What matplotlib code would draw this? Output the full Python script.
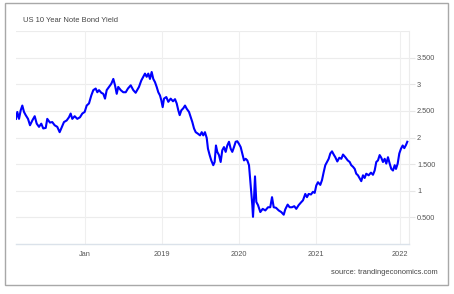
import matplotlib
matplotlib.use("Agg")
import matplotlib.pyplot as plt
from matplotlib.patches import Rectangle

plt.rcParams['font.family'] = ['Liberation Sans', 'DejaVu Sans']

# Data: decimal year, yield (%)
years = [2017.104, 2017.121, 2017.143, 2017.165, 2017.186, 2017.208, 2017.230, 2017.260,
         2017.286, 2017.316, 2017.347, 2017.373, 2017.403, 2017.432, 2017.458, 2017.490,
         2017.510, 2017.545, 2017.575, 2017.606, 2017.640, 2017.671, 2017.692, 2017.727,
         2017.762, 2017.792, 2017.814, 2017.835, 2017.866, 2017.900, 2017.935, 2017.965,
         2017.996, 2018.022, 2018.052, 2018.082, 2018.108, 2018.139, 2018.160, 2018.182,
         2018.212, 2018.238, 2018.260, 2018.282, 2018.312, 2018.342, 2018.368, 2018.390,
         2018.412, 2018.432, 2018.464, 2018.497, 2018.529, 2018.558, 2018.594, 2018.627,
         2018.658, 2018.701, 2018.731, 2018.757, 2018.779, 2018.801, 2018.822, 2018.844,
         2018.866, 2018.887, 2018.909, 2018.931, 2018.952, 2018.974, 2018.991, 2019.009,
         2019.026, 2019.056, 2019.082, 2019.113, 2019.143, 2019.169, 2019.191, 2019.212,
         2019.230, 2019.251, 2019.277, 2019.299, 2019.321, 2019.351, 2019.373, 2019.394,
         2019.416, 2019.438, 2019.468, 2019.494, 2019.516, 2019.536, 2019.558, 2019.581,
         2019.597, 2019.619, 2019.640, 2019.666, 2019.684, 2019.701, 2019.718, 2019.740,
         2019.762, 2019.783, 2019.805, 2019.827, 2019.848, 2019.870, 2019.892, 2019.913,
         2019.935, 2019.957, 2019.978, 2020.000, 2020.022, 2020.043, 2020.065, 2020.087,
         2020.108, 2020.130, 2020.152, 2020.173, 2020.182, 2020.195, 2020.208, 2020.225,
         2020.247, 2020.277, 2020.308, 2020.342, 2020.377, 2020.406, 2020.429, 2020.451,
         2020.481, 2020.516, 2020.549, 2020.581, 2020.601, 2020.632, 2020.658, 2020.688,
         2020.718, 2020.744, 2020.775, 2020.805, 2020.831, 2020.861, 2020.883, 2020.905,
         2020.935, 2020.961, 2020.983, 2021.004, 2021.026, 2021.056, 2021.078, 2021.100,
         2021.121, 2021.143, 2021.165, 2021.186, 2021.208, 2021.230, 2021.251, 2021.277,
         2021.303, 2021.329, 2021.351, 2021.381, 2021.412, 2021.438, 2021.458, 2021.481,
         2021.503, 2021.523, 2021.545, 2021.568, 2021.588, 2021.610, 2021.632, 2021.653,
         2021.684, 2021.714, 2021.740, 2021.762, 2021.783, 2021.805, 2021.827, 2021.848,
         2021.870, 2021.892, 2021.913, 2021.935, 2021.957, 2021.978, 2022.000, 2022.022,
         2022.039, 2022.061, 2022.082, 2022.104, 2022.126, 2022.147, 2022.169, 2022.186]
yields = [2.35, 2.48, 2.35, 2.51, 2.60, 2.48, 2.42, 2.35,
          2.23, 2.32, 2.40, 2.26, 2.20, 2.26, 2.17, 2.18,
          2.35, 2.28, 2.29, 2.23, 2.20, 2.10, 2.17, 2.29,
          2.32, 2.38, 2.45, 2.35, 2.40, 2.35, 2.38, 2.45,
          2.48, 2.60, 2.64, 2.79, 2.89, 2.92, 2.85, 2.89,
          2.84, 2.82, 2.73, 2.89, 2.95, 3.01, 3.10, 2.98,
          2.82, 2.95, 2.89, 2.85, 2.85, 2.92, 2.98, 2.89,
          2.84, 2.95, 3.07, 3.14, 3.20, 3.14, 3.20, 3.10,
          3.23, 3.10, 3.04, 2.95, 2.85, 2.79, 2.70, 2.57,
          2.73, 2.76, 2.67, 2.73, 2.68, 2.72, 2.64, 2.51,
          2.42, 2.51, 2.55, 2.60, 2.54, 2.48, 2.38, 2.29,
          2.17, 2.10, 2.07, 2.04, 2.10, 2.04, 2.10, 1.99,
          1.79, 1.67, 1.57, 1.48, 1.54, 1.85, 1.73, 1.67,
          1.54, 1.76, 1.82, 1.73, 1.85, 1.92, 1.79, 1.73,
          1.82, 1.92, 1.93, 1.88, 1.82, 1.70, 1.57, 1.60,
          1.57, 1.48, 1.10, 0.73, 0.51, 0.85, 1.27, 0.79,
          0.73, 0.60, 0.66, 0.63, 0.69, 0.69, 0.88, 0.69,
          0.68, 0.63, 0.60, 0.55, 0.65, 0.74, 0.69, 0.69,
          0.71, 0.66, 0.73, 0.78, 0.82, 0.94, 0.88, 0.94,
          0.93, 0.98, 0.96, 1.10, 1.16, 1.11, 1.20, 1.35,
          1.48, 1.54, 1.60, 1.70, 1.74, 1.68, 1.63, 1.55,
          1.62, 1.60, 1.68, 1.63, 1.57, 1.54, 1.48, 1.45,
          1.41, 1.32, 1.29, 1.23, 1.18, 1.29, 1.24, 1.32,
          1.29, 1.34, 1.30, 1.38, 1.54, 1.57, 1.67, 1.62,
          1.54, 1.60, 1.51, 1.63, 1.51, 1.41, 1.38, 1.48,
          1.41, 1.51, 1.70, 1.79, 1.85, 1.80, 1.86, 1.92]

x_tick_pos = [2018.0, 2019.0, 2020.0, 2021.0, 2022.09]
x_tick_labels = ["Jan", "2019", "2020", "2021", "2022"]
y_ticks = [0.5, 1.0, 1.5, 2.0, 2.5, 3.0, 3.5]
y_tick_labels = ["0.500", "1", "1.500", "2", "2.500", "3", "3.500"]

W, H = 454, 294
fig = plt.figure(figsize=(W / 100, H / 100), dpi=100)
fig.patch.set_facecolor('white')

# outer frame
fig.patches.append(Rectangle((5 / W, 1 - 285 / H), 443 / W, 282 / H,
                             transform=fig.transFigure, fill=False,
                             edgecolor='#a8a8a8', linewidth=1.0))

ax = fig.add_axes([16 / W, 1 - 244 / H, 393 / W, 213 / H])
ax.set_facecolor('white')
ax.plot(years, yields, color='#0000ff', linewidth=1.5, solid_joinstyle='round')

ax.set_xlim(2017.104, 2022.208)
ax.set_ylim(0, 4)

# horizontal grid incl. top line
for v in [0.5, 1.0, 1.5, 2.0, 2.5, 3.0, 3.5, 4.0]:
    ax.axhline(v, color='#ececec', linewidth=0.8, zorder=0)
for v in x_tick_pos:
    ax.axvline(v, color='#efefef', linewidth=0.8, zorder=0)

ax.set_xticks(x_tick_pos)
ax.set_xticklabels(x_tick_labels)
ax.set_yticks(y_ticks)
ax.set_yticklabels(y_tick_labels)
ax.yaxis.tick_right()
ax.tick_params(axis='y', length=4.3, width=0.8, color='#e6e6e6', pad=1.5,
               labelsize=5.3, labelcolor='#555555')
ax.tick_params(axis='x', length=0, pad=5, labelsize=5.3, labelcolor='#555555')

for s in ['top', 'left']:
    ax.spines[s].set_visible(False)
ax.spines['right'].set_color('#ececec')
ax.spines['right'].set_linewidth(0.8)
ax.spines['bottom'].set_color('#dbe2ea')
ax.spines['bottom'].set_linewidth(1.0)

fig.text(23 / W, 1 - 21 / H, "US 10 Year Note Bond Yield", fontsize=5.4,
         color='#444444', ha='left', va='center')
fig.text(438 / W, 1 - 272 / H, "source: trandingeconomics.com", fontsize=5.4,
         color='#444444', ha='right', va='center')

fig.savefig("out.png", dpi=100, facecolor='white')
